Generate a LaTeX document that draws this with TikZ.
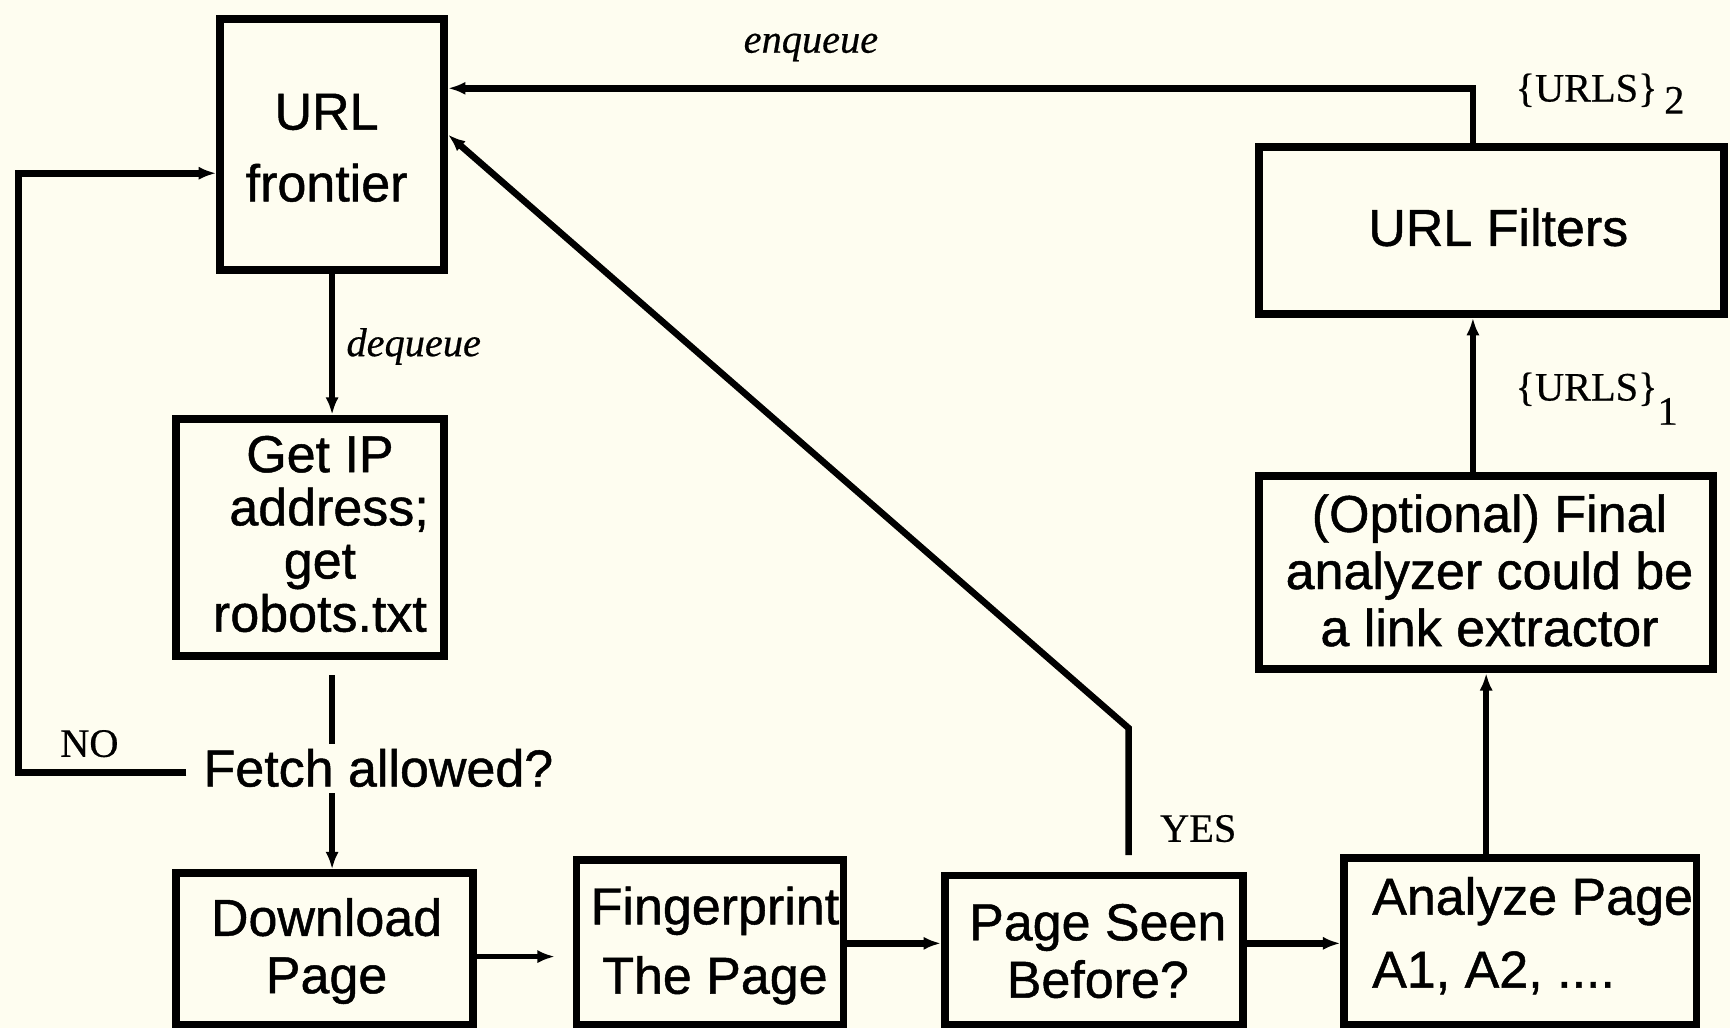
\documentclass[tikz,border=0pt]{standalone}
\usepackage{fontspec}
\setmainfont{Liberation Serif}[FakeBold=0.5]
\newfontfamily\boxfont{Liberation Sans}[FakeBold=0.9]
\usetikzlibrary{arrows.meta}
\definecolor{paper}{RGB}{254,253,240}

\begin{document}
\begin{tikzpicture}[x=0.01cm, y=-0.01cm,
  box/.style={draw, line width=2pt, inner sep=0pt},
  conn/.style={line width=1.7pt},
  arr/.style={conn, -{Latex[length=4.5pt,width=3.4pt]}},
  sans/.style={font=\boxfont\fontsize{13.4pt}{#1}\selectfont, inner sep=0pt, align=center},
  tag/.style={font=\fontsize{10.4pt}{12pt}\selectfont, inner sep=0pt},
  itag/.style={font=\fontsize{10.4pt}{12pt}\selectfont\itshape, inner sep=0pt},
]
% paper and page size
\fill[paper] (0,0) rectangle (1568,932);
\useasboundingbox (0,0) rectangle (1568,932);

% boxes
\node[box, minimum width=2.03cm, minimum height=2.27cm] (frontier)    at (301,131)    {};
\node[box, minimum width=2.43cm, minimum height=2.15cm] (getip)       at (281,487)    {};
\node[box, minimum width=2.69cm, minimum height=1.37cm] (download)    at (294,860)    {};
\node[box, minimum width=2.42cm, minimum height=1.49cm] (fingerprint) at (643.5,854)  {};
\node[box, minimum width=2.70cm, minimum height=1.35cm] (seen)        at (991.5,861)  {};
\node[box, minimum width=3.19cm, minimum height=1.51cm] (analyze)     at (1378,853)   {};
\node[box, minimum width=4.11cm, minimum height=1.75cm] (final)       at (1347,519)   {};
\node[box, minimum width=4.21cm, minimum height=1.51cm] (filters)     at (1352,209)   {};

% box texts
\node[sans=18.5pt] (t-frontier)    at (296,134)  {URL\\frontier};
\node[sans=13.7pt] (t-getip)       at (290,484)  {Get IP\\\hspace*{0.35em}address;\\get\\robots.txt};
\node[sans=14.8pt] (t-download)    at (296,862)  {Download\\Page};
\node[sans=17.9pt] (t-fingerprint) at (648,857)  {Fingerprint\\The Page};
\node[sans=14.8pt] (t-seen)        at (995,862)  {Page Seen\\Before?};
\node[sans=18.8pt, align=left, anchor=west] (t-analyze) at (1243,848) {Analyze Page\\A1, A2, ....};
\node[sans=14.7pt] (t-final)       at (1350,517) {(Optional) Final\\analyzer could be\\a link extractor};
\node[sans=14pt]   (t-filters)     at (1358,206) {URL Filters};
\node[sans=14pt]   (fetch)         at (343,696)  {Fetch allowed?};

% small labels
\node[itag] (l-enq) at (735,43)  {enqueue};
\node[itag] (l-deq) at (375,314) {dequeue};
\node[tag, anchor=base west] (l-u2) at (1373,92)  {\{URLS\}\,\raisebox{-0.3em}{2}};
\node[tag, anchor=base west] (l-u1) at (1373,363) {\{URLS\}\raisebox{-0.6em}{1}};
\node[tag] (l-no)  at (81,674)   {NO};
\node[tag] (l-yes) at (1086,751) {YES};

% helper points
\coordinate (eq)  at (1335,80);
\coordinate (fy)  at (0,122);
\coordinate (yb)  at (1023,660);
\coordinate (nb)  at (17,700);
\coordinate (nt)  at (17,157);
\coordinate (gx)  at (301,0);
\coordinate (dy)  at (0,867);
\coordinate (py)  at (0,855);
\coordinate (ax)  at (1347,0);
\coordinate (fx)  at (1335,0);

% connectors
\draw[arr] (eq |- filters.north) -- (eq) -- (eq -| frontier.east);
\draw[arr, shorten <=0.15cm] (seen.north -| yb) -- (yb) -- (frontier.east |- fy);
\draw[arr, shorten <=0.15cm] (fetch.west |- nb) -- (nb) -- (nt) -- (frontier.west |- nt);
\draw[arr] (frontier.south -| gx) -- (getip.north -| gx);
\draw[conn, shorten <=0.14cm, shorten >=0.04cm] (getip.south -| gx) -- (fetch.north -| gx);
\draw[arr, shorten <=0.05cm] (fetch.south -| gx) -- (download.north -| gx);
\draw[arr, line width=1.3pt, shorten >=0.16cm] (download.east |- dy) -- (fingerprint.west |- dy);
\draw[arr] (fingerprint.east |- py) -- (seen.west |- py);
\draw[arr] (seen.east |- py) -- (analyze.west |- py);
\draw[arr] (analyze.north -| ax) -- (final.south -| ax);
\draw[arr] (final.north -| fx) -- (filters.south -| fx);
\end{tikzpicture}
\end{document}
